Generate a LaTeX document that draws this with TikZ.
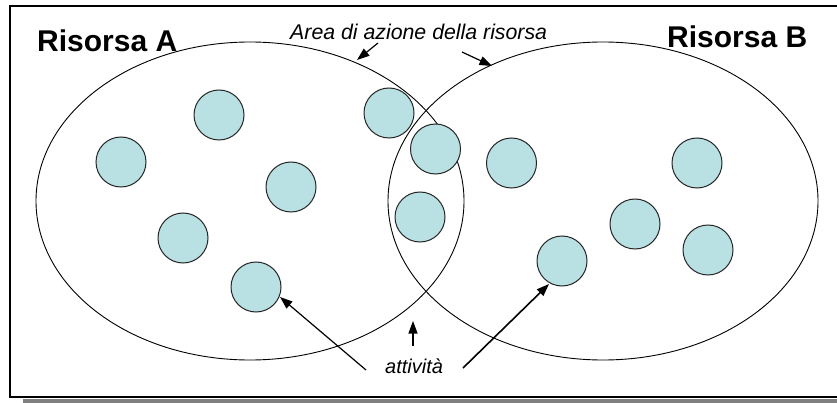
\documentclass[tikz,border=0pt]{standalone}
\usepackage{fontspec}
\setmainfont{Liberation Sans}
\usetikzlibrary{arrows.meta,shapes.geometric}
\definecolor{actfill}{RGB}{185,224,226}
\definecolor{shadowgray}{RGB}{128,128,128}
\tikzset{
  area/.style={draw=black,line width=0.9pt,ellipse,inner sep=0pt,outer sep=0pt,fill=none},
  act/.style={draw=black!85,line width=1pt,circle,fill=actfill,minimum size=50pt,inner sep=0pt,outer sep=0pt},
  lbl/.style={font=\fontsize{21.3}{24}\selectfont\itshape,inner sep=0pt,anchor=base west},
  title/.style={font=\fontsize{30}{34}\selectfont\bfseries,inner sep=0pt,anchor=base west},
  arr/.style={line width=1.2pt,-{Triangle[length=12.5pt,width=9pt]}},
}
\begin{document}
\begin{tikzpicture}[x=1pt,y=-1pt]
\useasboundingbox (0,0) rectangle (837,403);
\clip (0,0) rectangle (837,403);
\fill[white] (0,0) rectangle (837,403);
% frame with shadow
\fill[shadowgray] (23,398.5) rectangle (850,410);
\draw[line width=1.6pt] (10,6) rectangle (850,397);
% areas
\node[area,minimum width=428pt,minimum height=318pt] (areaA) at (250,201) {};
\node[area,minimum width=430pt,minimum height=318pt] (areaB) at (603,201) {};
% activities
\node[act] (c1) at (219,115) {};
\node[act] (c2) at (121,162) {};
\node[act] (c3) at (291,187) {};
\node[act] (c4) at (183,238) {};
\node[act] (c5) at (256,287) {};
\node[act] (c6) at (389,113) {};
\node[act] (c7) at (435.5,149) {};
\node[act] (c8) at (420,217) {};
\node[act] (c9) at (511.5,163) {};
\node[act] (c10) at (697,163) {};
\node[act] (c11) at (635,224) {};
\node[act] (c12) at (562,261) {};
\node[act] (c13) at (708,250) {};
% labels
\node[title] (resA) at (37,52) {Risorsa A};
\node[title] (resB) at (667,48) {Risorsa B};
\node[lbl] (area) at (290,40) {Area di azione della risorsa};
\node[lbl,font=\fontsize{20}{24}\selectfont\itshape] (att) at (385,373) {attività};
% arrow coordinates
\coordinate (a1s) at (378,43);
\coordinate (a1e) at (357,60);
\coordinate (a2s) at (462,52);
\coordinate (a2e) at (492,66);
\coordinate (l1s) at (366,370);
\coordinate (l1e) at (280,297);
\coordinate (l2s) at (413,346);
\coordinate (l2e) at (413,321);
\coordinate (l3s) at (463,368);
\coordinate (l3e) at (549,284);
\draw[arr] (a1s) -- (a1e);
\draw[arr] (a2s) -- (a2e);
\draw[arr] (l1s) -- (l1e);
\draw[arr] (l2s) -- (l2e);
\draw[arr,line width=1.6pt] (l3s) -- (l3e);
\end{tikzpicture}
\end{document}
